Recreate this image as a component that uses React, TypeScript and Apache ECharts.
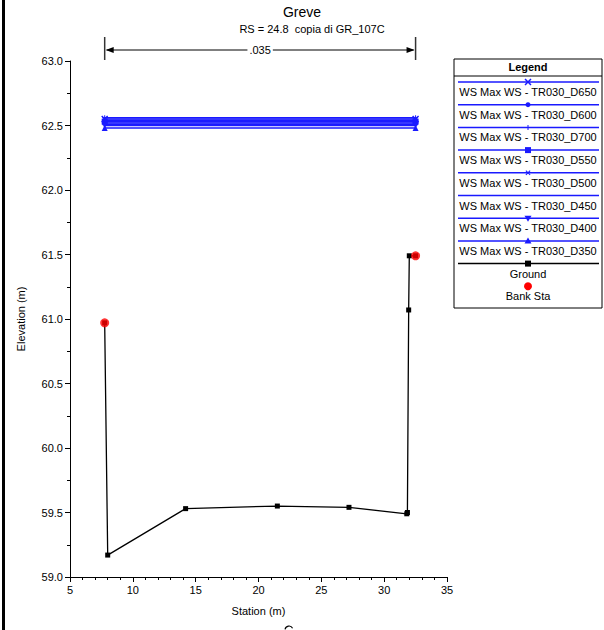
import React, { useEffect, useRef } from "react";
import * as echarts from "echarts";

const FONT = "'Liberation Sans', Arial, sans-serif";

const titleText = "Greve";
const subtitleText = "RS = 24.8  copia di GR_107C";
const nValueText = ".035";

const wsStations = [7.76, 32.5];
const wsNames = [
  "WS Max WS - TR030_D650",
  "WS Max WS - TR030_D600",
  "WS Max WS - TR030_D700",
  "WS Max WS - TR030_D550",
  "WS Max WS - TR030_D500",
  "WS Max WS - TR030_D450",
  "WS Max WS - TR030_D400",
  "WS Max WS - TR030_D350",
];
const wsLevels = [62.55, 62.54, 62.56, 62.53, 62.52, 62.51, 62.5, 62.48];
const wsMarkers = ["x", "circle", "plus", "rect", "xs", "none", "tridown", "tri"];

const groundStations = [7.76, 8.0, 14.2, 21.5, 27.2, 31.8, 31.85, 31.95, 32.0, 32.5];
const groundElev = [60.97, 59.17, 59.53, 59.55, 59.54, 59.49, 59.5, 61.07, 61.49, 61.49];

const bankStations = [7.76, 32.5];
const bankElev = [60.97, 61.49];

const xTicks = { min: 5, max: 35, interval: 5 };
const yTicks = { min: 59, max: 63, interval: 0.5 };

const BLUE = "#1a1aff";

const X_PATH = "path://M0,1.5L1.5,0L5,3.5L8.5,0L10,1.5L6.5,5L10,8.5L8.5,10L5,6.5L1.5,10L0,8.5L3.5,5Z";
const PLUS_PATH = "path://M4,0H6V4H10V6H6V10H4V6H0V4H4Z";

function symbolFor(m: string): { symbol: string; size: number; rotate?: number } {
  switch (m) {
    case "x": return { symbol: X_PATH, size: 7 };
    case "xs": return { symbol: X_PATH, size: 5 };
    case "circle": return { symbol: "circle", size: 5 };
    case "plus": return { symbol: PLUS_PATH, size: 5 };
    case "rect": return { symbol: "rect", size: 6 };
    case "tri": return { symbol: "triangle", size: 6 };
    case "tridown": return { symbol: "triangle", size: 6, rotate: 180 };
    default: return { symbol: "none", size: 0 };
  }
}

function xPoly(cx: number, cy: number, h: number) {
  const base = [[0,1.5],[1.5,0],[5,3.5],[8.5,0],[10,1.5],[6.5,5],[10,8.5],[8.5,10],[5,6.5],[1.5,10],[0,8.5],[3.5,5]];
  return base.map(([a, b]) => [cx + (a - 5) * h / 5, cy + (b - 5) * h / 5]);
}

function legendMarker(m: string, cx: number, cy: number, color: string): any[] {
  switch (m) {
    case "x": return [{ type: "polygon", shape: { points: xPoly(cx, cy, 3.5) }, style: { fill: color } }];
    case "xs": return [{ type: "polygon", shape: { points: xPoly(cx, cy, 2.5) }, style: { fill: color } }];
    case "circle": return [{ type: "circle", shape: { cx, cy, r: 2.5 }, style: { fill: color } }];
    case "plus": return [
      { type: "rect", shape: { x: cx - 0.5, y: cy - 2.5, width: 1, height: 5 }, style: { fill: color } },
    ];
    case "rect": return [{ type: "rect", shape: { x: cx - 3, y: cy - 3, width: 6, height: 6 }, style: { fill: color } }];
    case "tri": return [{ type: "polygon", shape: { points: [[cx, cy - 3.5], [cx + 3.5, cy + 2.5], [cx - 3.5, cy + 2.5]] }, style: { fill: color } }];
    case "tridown": return [{ type: "polygon", shape: { points: [[cx, cy + 3.5], [cx + 3.5, cy - 2.5], [cx - 3.5, cy - 2.5]] }, style: { fill: color } }];
    default: return [];
  }
}

export default function App() {
  const ref = useRef<HTMLDivElement>(null);

  useEffect(() => {
    if (!ref.current) return;
    const chart = echarts.init(ref.current, null, { renderer: "svg" });

    const axisCommon = {
      type: "value" as const,
      nameLocation: "middle" as const,
      axisLine: { show: true, lineStyle: { color: "#000", width: 1 } },
      axisTick: { show: true, length: 5, lineStyle: { color: "#000", width: 1 } },
      splitLine: { show: false },
      nameTextStyle: { fontFamily: FONT, fontSize: 11, color: "#000" },
    };

    const wsSeries = wsNames.map((name, i) => {
      const s = symbolFor(wsMarkers[i]);
      return {
        name,
        type: "line",
        data: wsStations.map((x) => [x, wsLevels[i]]),
        lineStyle: { color: BLUE, width: 1.5 },
        itemStyle: { color: BLUE },
        symbol: s.symbol,
        symbolSize: s.size,
        symbolRotate: s.rotate || 0,
        showSymbol: s.symbol !== "none",
        z: 3,
      };
    });

    const option: any = {
      animation: false,
      grid: { left: 70, right: 157, top: 61, bottom: 53, containLabel: false },
      xAxis: {
        ...axisCommon,
        min: xTicks.min,
        max: xTicks.max,
        interval: xTicks.interval,
        name: "Station (m)",
        nameGap: 28,
        minorTick: { show: true, splitNumber: 5, length: 3, lineStyle: { color: "#000" } },
        axisLabel: { color: "#000", fontSize: 11, fontFamily: FONT, margin: 7 },
      },
      yAxis: {
        ...axisCommon,
        min: yTicks.min,
        max: yTicks.max,
        interval: yTicks.interval,
        name: "Elevation (m)",
        nameGap: 44,
        minorTick: { show: true, splitNumber: 2, length: 3, lineStyle: { color: "#000" } },
        axisLabel: {
          color: "#000", fontSize: 11, fontFamily: FONT, margin: 7,
          formatter: (v: number) => v.toFixed(1),
        },
      },
      series: [
        ...wsSeries,
        {
          name: "Ground",
          type: "line",
          data: groundStations.map((x, i) => [x, groundElev[i]]),
          lineStyle: { color: "#000", width: 1.3 },
          itemStyle: { color: "#000" },
          symbol: "rect",
          symbolSize: 5,
          z: 4,
        },
        {
          name: "Bank Sta",
          type: "scatter",
          data: bankStations.map((x, i) => [x, bankElev[i]]),
          itemStyle: { color: "#ff0000" },
          symbol: "circle",
          symbolSize: 9,
          z: 5,
        },
      ],
    };
    chart.setOption(option);

    const x1 = chart.convertToPixel({ xAxisIndex: 0 }, wsStations[0]) as number;
    const x2 = chart.convertToPixel({ xAxisIndex: 0 }, wsStations[1]) as number;
    const ay = 50;
    const gray = "#333";

    const graphic: any[] = [];
    // left frame bar
    graphic.push({ type: "rect", shape: { x: 2, y: 0, width: 3, height: 630 }, style: { fill: "#000" } });
    // titles
    graphic.push({ type: "text", x: 302, y: 12, style: { text: titleText, font: `14px ${FONT}`, fill: "#000", align: "center", verticalAlign: "middle" } });
    graphic.push({ type: "text", x: 312, y: 29, style: { text: subtitleText, font: `11px ${FONT}`, fill: "#000", align: "center", verticalAlign: "middle" } });
    // n-value arrow
    graphic.push({ type: "line", shape: { x1: x1, y1: 37, x2: x1, y2: 60 }, style: { stroke: gray, lineWidth: 1.5 } });
    graphic.push({ type: "line", shape: { x1: x2, y1: 37, x2: x2, y2: 60 }, style: { stroke: gray, lineWidth: 1.5 } });
    graphic.push({ type: "line", shape: { x1: x1 + 2, y1: ay, x2: x2 - 2, y2: ay }, style: { stroke: "#000", lineWidth: 1 } });
    graphic.push({ type: "polygon", shape: { points: [[x1 + 1, ay], [x1 + 9, ay - 3], [x1 + 9, ay + 3]] }, style: { fill: "#000" } });
    graphic.push({ type: "polygon", shape: { points: [[x2 - 1, ay], [x2 - 9, ay - 3], [x2 - 9, ay + 3]] }, style: { fill: "#000" } });
    graphic.push({
      type: "text", x: (x1 + x2) / 2, y: ay, z: 10,
      style: { text: nValueText, font: `11px ${FONT}`, fill: "#000", align: "center", verticalAlign: "middle", backgroundColor: "#fff", padding: [0, 2] },
    });

    // legend box
    const lx = 454, ly = 59, lw = 148, lh = 249;
    graphic.push({ type: "rect", shape: { x: lx, y: ly, width: lw, height: lh }, style: { fill: "#fff", stroke: "#000", lineWidth: 1 } });
    graphic.push({ type: "line", shape: { x1: lx, y1: 76, x2: lx + lw, y2: 76 }, style: { stroke: "#000", lineWidth: 1 } });
    graphic.push({ type: "text", x: lx + lw / 2, y: 67, style: { text: "Legend", font: `bold 11px ${FONT}`, fill: "#000", align: "center", verticalAlign: "middle" } });
    const cx = lx + lw / 2;
    const step = 22.7;
    wsNames.forEach((name, i) => {
      const yLine = 82 + i * step;
      graphic.push({ type: "line", shape: { x1: 458, y1: yLine, x2: 599, y2: yLine }, style: { stroke: BLUE, lineWidth: 1.5 } });
      graphic.push(...legendMarker(wsMarkers[i], cx, yLine, BLUE));
      graphic.push({ type: "text", x: cx, y: yLine + 10, style: { text: name, font: `11px ${FONT}`, fill: "#000", align: "center", verticalAlign: "middle" } });
    });
    const gy = 82 + 8 * step;
    graphic.push({ type: "line", shape: { x1: 458, y1: gy, x2: 599, y2: gy }, style: { stroke: "#000", lineWidth: 1.5 } });
    graphic.push(...legendMarker("rect", cx, gy, "#000"));
    graphic.push({ type: "text", x: cx, y: gy + 10, style: { text: "Ground", font: `11px ${FONT}`, fill: "#000", align: "center", verticalAlign: "middle" } });
    const by = gy + step;
    graphic.push({ type: "circle", shape: { cx, cy: by, r: 4 }, style: { fill: "#ff0000" } });
    graphic.push({ type: "text", x: cx, y: by + 10, style: { text: "Bank Sta", font: `11px ${FONT}`, fill: "#000", align: "center", verticalAlign: "middle" } });

    // top of a cut-off glyph at the bottom edge (drawn as an arc)
    graphic.push({
      type: "arc",
      shape: { cx: 289, cy: 630, r: 4, startAngle: Math.PI * 1.05, endAngle: Math.PI * 1.85 },
      style: { stroke: "#000", lineWidth: 1.2, fill: "none" },
    });

    chart.setOption({ graphic });

    return () => chart.dispose();
  }, []);

  return (
    <div
      ref={ref}
      style={{ position: "absolute", left: 0, top: 0, width: 604, height: 630, background: "#fff" }}
    />
  );
}
